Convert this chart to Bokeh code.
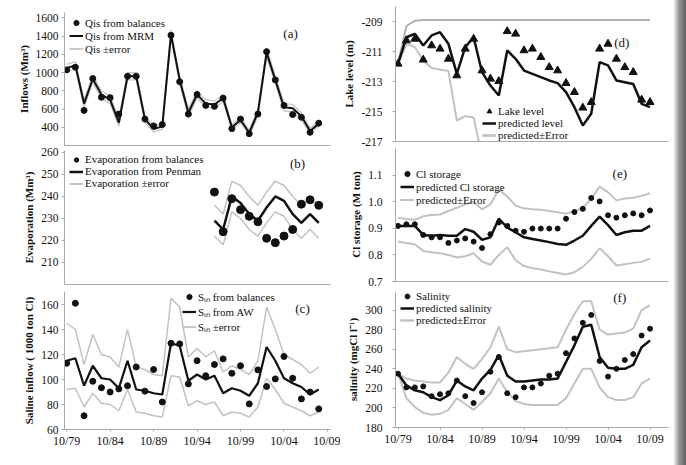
from bokeh.plotting import figure
from bokeh.models import Legend, LegendItem, Label, FixedTicker, Range1d, Div
from bokeh.layouts import row, column
from bokeh.embed import file_html
from bokeh.resources import INLINE

# ---------------- data ----------------
tick_pos = [0, 5, 10, 15, 20, 25, 30]
tick_labels = ["10/79", "10/84", "10/89", "10/94", "10/99", "10/04", "10/09"]

years_l = list(range(30))      # annual values 10/79 .. 10/08
years_r = list(range(31))      # states 10/79 .. 10/09

# (a) inflows
qis_bal = [1030, 1060, 585, 935, 730, 725, 545, 960, 960, 490, 415, 430, 1410, 900, 545,
           760, 640, 630, 720, 385, 490, 330, 545, 1230, 920, 640, 540, 510, 345, 445]
qis_mrm = [1050, 1080, 660, 930, 760, 700, 450, 960, 960, 490, 380, 410, 1420, 920, 560,
           760, 660, 650, 720, 400, 480, 340, 560, 1220, 920, 620, 610, 520, 360, 440]
qis_up = [1090, 1120, 700, 970, 800, 740, 490, 1000, 1000, 530, 410, 440, 1470, 960, 600,
          800, 700, 690, 760, 430, 510, 370, 600, 1270, 960, 660, 650, 560, 390, 470]
qis_lo = [1010, 1040, 620, 890, 720, 660, 410, 920, 920, 450, 350, 380, 1370, 880, 520,
          720, 620, 610, 680, 370, 450, 310, 520, 1170, 880, 580, 570, 480, 330, 410]

# (b) evaporation (10/96 .. 10/08)
years_b = list(range(17, 30))
evap_bal = [242, 224, 239, 234, 231, 228.5, 221, 219, 222, 225, 236.5, 238.5, 236]
evap_pen = [229, 225, 240, 237, 232, 229, 235, 240, 238, 232, 228, 232, 228]
evap_up = [236, 232, 247, 245, 240, 236, 242, 247, 245, 240, 236, 239, 236]
evap_lo = [222, 218, 233, 230, 225, 222, 228, 233, 231, 225, 221, 225, 221]

# (c) saline inflow
sin_bal = [113, 161, 71, 98.6, 93.4, 90, 92.5, 95, 110, 90.7, 108, 82, 129, 128.5, 96.5,
           115, 103, 112, 116.5, 105, 111, 80.5, 107.7, 94.4, 100.5, 118.4, 101, 84.5, 90, 76.5]
sin_aw = [115, 117, 95, 111, 101, 100, 93, 115, 92, 91, 89, 88, 129, 127, 99,
          104, 100, 103, 89, 93, 91, 87, 97, 126, 115, 101, 97, 94, 88, 92]
sin_up = [145, 140, 112, 136, 120, 118, 110, 140, 110, 108, 104, 103, 165, 158, 118,
          125, 118, 123, 106, 111, 108, 104, 115, 158, 140, 120, 116, 112, 105, 110]
sin_lo = [92, 93, 78, 89, 81, 80, 75, 92, 74, 73, 71, 70, 103, 102, 79,
          83, 80, 82, 71, 74, 73, 70, 78, 101, 92, 81, 78, 75, 71, 74]

# (d) lake level
lake_obs = [-211.82, -210.27, -210.16, -211.55, -210.6, -210.82, -211.49, -212.6, -210.82, -210.16,
            -212.27, -212.82, -212.98, -209.65, -209.82, -210.93, -210.82, -211.38, -212.05, -212.27,
            -213.11, -213.71, -214.75, -214.38, -210.82, -210.49, -211.49, -212.05, -212.38, -214.22,
            -214.38]
lake_pred = [-211.82, -210.05, -209.82, -210.6, -209.93, -209.71, -210.49, -212.49, -210.71, -210.05,
             -212.38, -213.27, -213.93, -210.93, -211.49, -212.27, -212.49, -212.71, -212.93, -213.11,
             -213.71, -214.71, -215.93, -215.15, -211.71, -211.93, -212.93, -213.05, -213.16, -214.49,
             -214.71]
lake_up = [-211.82, -209.3, -208.95, -208.9, -208.9, -208.9, -208.9, -208.9, -208.9, -208.9,
           -208.9, -208.9, -208.9, -208.9, -208.9, -208.9, -208.9, -208.9, -208.9, -208.9,
           -208.9, -208.9, -208.9, -208.9, -208.9, -208.9, -208.9, -208.9, -208.9, -208.9,
           -208.9]
lake_lo = [-211.82, -210.5, -210.7, -211.6, -212.1, -212.2, -212.3, -215.6, -215.3, -215.4,
           -218.0, -219.0, -220.0, -219.5, -220.5, -221.5, -222.0, -222.5, -223.0, -223.5,
           -224.0, -225.0, -226.0, -226.0, -223.0, -223.5, -224.5, -225.0, -225.5, -226.5,
           -227.0]

# (e) Cl storage
cl_obs = [0.909, 0.915, 0.915, 0.875, 0.866, 0.866, 0.845, 0.854, 0.862, 0.85,
          0.826, 0.878, 0.922, 0.909, 0.891, 0.887, 0.899, 0.899, 0.899, 0.899,
          0.936, 0.961, 0.973, 1.014, 1.001, 0.949, 0.94, 0.949, 0.956, 0.949, 0.967]
cl_pred = [0.909, 0.909, 0.909, 0.875, 0.872, 0.875, 0.872, 0.872, 0.897, 0.887,
           0.857, 0.866, 0.936, 0.903, 0.885, 0.866, 0.86, 0.854, 0.848, 0.841,
           0.838, 0.854, 0.872, 0.909, 0.944, 0.912, 0.875, 0.885, 0.891, 0.891, 0.909]
cl_up = [0.94, 0.935, 0.932, 0.945, 0.95, 0.952, 0.965, 0.977, 0.99, 1.0,
         0.972, 0.99, 1.045, 1.02, 0.985, 0.975, 0.972, 0.97, 0.965, 0.96,
         0.955, 0.965, 0.977, 1.01, 1.057, 1.035, 1.005, 1.012, 1.015, 1.022, 1.032]
cl_lo = [0.85, 0.845, 0.84, 0.815, 0.81, 0.806, 0.8, 0.79, 0.795, 0.806,
         0.775, 0.763, 0.8, 0.829, 0.78, 0.758, 0.75, 0.745, 0.738, 0.732,
         0.726, 0.735, 0.755, 0.785, 0.825, 0.795, 0.76, 0.765, 0.77, 0.774, 0.786]

# (f) salinity
sal_obs = [235, 221, 221, 222, 212, 214, 215, 228, 212, 205,
           216, 237, 252, 215, 211, 221, 221, 225, 233, 235,
           256, 271, 287, 295, 248, 232, 240, 249, 255, 274, 281]
sal_pred = [235, 223, 218, 216, 211, 208, 213, 228, 222, 218,
            230, 239, 254, 233, 227, 227, 228, 229, 229, 230,
            247, 264, 283, 285, 252, 241, 240, 240, 244, 262, 269]
sal_up = [235, 230, 228, 227, 226, 226, 236, 252, 245, 240,
          250, 262, 283, 260, 257, 258, 259, 260, 261, 262,
          280, 296, 309, 309, 280, 275, 276, 277, 281, 300, 305]
sal_lo = [235, 210, 201, 195, 193, 194, 198, 210, 204, 198,
          206, 215, 230, 216, 207, 204, 203, 203, 203, 203,
          210, 225, 240, 240, 221, 211, 208, 208, 211, 225, 230]

# ---------------- style ----------------
SERIF = "Liberation Serif"
AX = "#a8a8a8"
GRAY = "#c2c2c2"
BLACK = "#111111"
XL = Range1d(-0.25, 30.35)
XR = Range1d(-0.3, 32.2)


def make(width, height, xr, y0, y1, b, yticks, ylabels, title, show_x, right_col):
    p = figure(width=width, height=height, x_range=xr, y_range=Range1d(y0, y1),
               output_backend="svg", toolbar_location=None,
               min_border_left=b[0], min_border_right=b[1],
               min_border_top=b[2], min_border_bottom=b[3])
    p.xgrid.visible = False
    p.ygrid.visible = False
    p.outline_line_color = None
    p.background_fill_color = "white"
    p.border_fill_color = "white"
    ya = p.yaxis[0]
    ya.ticker = FixedTicker(ticks=yticks)
    ya.major_label_overrides = {t: l for t, l in zip(yticks, ylabels)}
    ya.axis_line_color = AX
    ya.major_tick_line_color = AX
    ya.minor_tick_line_color = None
    ya.major_tick_out = 3
    ya.major_tick_in = 0
    ya.major_label_standoff = 10 if right_col else 3
    ya.major_label_text_font = SERIF
    ya.major_label_text_font_size = "11.5px"
    ya.major_label_text_color = BLACK
    ya.axis_label = title
    ya.axis_label_text_font = SERIF
    ya.axis_label_text_font_size = "11px"
    ya.axis_label_text_font_style = "bold"
    ya.axis_label_text_color = BLACK
    ya.axis_label_standoff = 3
    xa = p.xaxis[0]
    xa.axis_line_color = AX
    xa.major_tick_line_color = AX
    xa.minor_tick_line_color = None
    xa.major_tick_in = 0
    if show_x:
        xa.ticker = FixedTicker(ticks=tick_pos)
        xa.major_label_overrides = {t: l for t, l in zip(tick_pos, tick_labels)}
        xa.major_tick_out = 2
        xa.major_label_standoff = 2
        xa.major_label_text_font = SERIF
        xa.major_label_text_font_size = "12px"
        xa.major_label_text_color = BLACK
    else:
        xa.ticker = FixedTicker(ticks=[])
        xa.major_tick_out = 0
        xa.major_label_standoff = 0
    return p


def legend(p, items, loc, gh, fs="11px"):
    lg = Legend(items=items, location=loc, orientation="vertical",
                background_fill_alpha=0, border_line_alpha=0, padding=0, margin=0,
                spacing=0, glyph_width=14, glyph_height=gh, label_height=gh,
                label_standoff=2, label_text_font=SERIF, label_text_font_size=fs,
                label_text_color=BLACK)
    p.add_layout(lg)


def tag(p, x, y, t):
    p.add_layout(Label(x=x, y=y, text=t, text_font=SERIF, text_font_size="13px",
                       text_align="center", text_baseline="middle", text_color=BLACK))


# (a)
pa = make(340, 147, XL, 200, 1660, (64, 10, 12, 2),
          [400, 600, 800, 1000, 1200, 1400, 1600],
          ["400", "600", "800", "1000", "1200", "1400", "1600"],
          "Inflows (Mm³)", False, False)
ra_u = pa.line(years_l, qis_up, line_color=GRAY, line_width=1.2)
ra_l = pa.line(years_l, qis_lo, line_color=GRAY, line_width=1.2)
ra_m = pa.line(years_l, qis_mrm, line_color=BLACK, line_width=2)
ra_b = pa.scatter(years_l, qis_bal, size=6, color=BLACK)
legend(pa, [LegendItem(label="Qis from balances", renderers=[ra_b]),
            LegendItem(label="Qis from MRM", renderers=[ra_m]),
            LegendItem(label="Qis ±error", renderers=[ra_u, ra_l])], (5, 90), 13)
tag(pa, 25.75, 1430, "(a)")

# (b)
pb = make(340, 141, XL, 200, 260.9, (64, 10, 3, 4),
          [210, 220, 230, 240, 250, 260], ["210", "220", "230", "240", "250", "260"],
          "Evaporation (Mm³)", False, False)
rb_u = pb.line(years_b, evap_up, line_color=GRAY, line_width=1.5)
rb_l = pb.line(years_b, evap_lo, line_color=GRAY, line_width=1.5)
rb_m = pb.line(years_b, evap_pen, line_color=BLACK, line_width=2.5)
rb_b = pb.scatter(years_b, evap_bal, size=8, color=BLACK)
legend(pb, [LegendItem(label="Evaporation from balances", renderers=[rb_b]),
            LegendItem(label="Evaporation from Penman", renderers=[rb_m]),
            LegendItem(label="Evaporation ±error", renderers=[rb_u, rb_l])], (5, 95), 11)
tag(pb, 26.55, 255, "(b)")

# (c)
pc = make(340, 177, XL, 60, 170.4, (64, 10, 3, 36),
          [60, 80, 100, 120, 140, 160], ["60", "80", "100", "120", "140", "160"],
          "Saline inflow ( 1000 ton Cl)", True, False)
rc_u = pc.line(years_l, sin_up, line_color=GRAY, line_width=1.5)
rc_l = pc.line(years_l, sin_lo, line_color=GRAY, line_width=1.5)
rc_m = pc.line(years_l, sin_aw, line_color=BLACK, line_width=2.2)
rc_b = pc.scatter(years_l, sin_bal, size=6, color=BLACK)
legend(pc, [LegendItem(label="Sᵢₙ from balances", renderers=[rc_b]),
            LegendItem(label="Sᵢₙ from AW", renderers=[rc_m]),
            LegendItem(label="Sᵢₙ ±error", renderers=[rc_u, rc_l])], (118, 95), 13)
tag(pc, 27.13, 156.8, "(c)")

# (d)
pd_ = make(334, 147, XR, -217, -208, (48, 6, 6, 6),
           [-217, -215, -213, -211, -209], ["-217", "-215", "-213", "-211", "-209"],
           "Lake level (m)", False, True)
rd_u = pd_.line(years_r, lake_up, line_color="#b0b0b0", line_width=2)
rd_l = pd_.line(years_r, lake_lo, line_color=GRAY, line_width=2)
rd_m = pd_.line(years_r, lake_pred, line_color=BLACK, line_width=2.5)
rd_b = pd_.scatter(years_r, lake_obs, marker="triangle", size=8, color=BLACK)
legend(pd_, [LegendItem(label="Lake level", renderers=[rd_b]),
             LegendItem(label="predicted level", renderers=[rd_m]),
             LegendItem(label="predicted±Error", renderers=[rd_u, rd_l])], (87, 0), 12)
tag(pd_, 26.63, -210.4, "(d)")

# (e)
pe = make(334, 140, XR, 0.7, 1.2037, (48, 6, 0, 6),
          [0.7, 0.8, 0.9, 1.0, 1.1], ["0.7", "0.8", "0.9", "1.0", "1.1"],
          "Cl storage (M ton)", False, True)
re_u = pe.line(years_r, cl_up, line_color=GRAY, line_width=2)
re_l = pe.line(years_r, cl_lo, line_color=GRAY, line_width=2)
re_m = pe.line(years_r, cl_pred, line_color=BLACK, line_width=2.5)
re_b = pe.scatter(years_r, cl_obs, size=5, color=BLACK)
legend(pe, [LegendItem(label="Cl storage", renderers=[re_b]),
            LegendItem(label="predicted Cl storage", renderers=[re_m]),
            LegendItem(label="predicted±Error", renderers=[re_u, re_l])], (5, 75), 13)
tag(pe, 26.4, 1.1065, "(e)")

# (f)
pf = make(334, 178, XR, 180, 319, (48, 6, 4, 38),
          [180, 200, 220, 240, 260, 280, 300], ["180", "200", "220", "240", "260", "280", "300"],
          "salinity (mgCl l⁻¹)", True, True)
rf_u = pf.line(years_r, sal_up, line_color=GRAY, line_width=2)
rf_l = pf.line(years_r, sal_lo, line_color=GRAY, line_width=2)
rf_m = pf.line(years_r, sal_pred, line_color=BLACK, line_width=2.5)
rf_b = pf.scatter(years_r, sal_obs, size=5, color=BLACK)
legend(pf, [LegendItem(label="Salinity", renderers=[rf_b]),
            LegendItem(label="predicted salinity", renderers=[rf_m]),
            LegendItem(label="predicted±Error", renderers=[rf_u, rf_l])], (5, 101), 12)
tag(pf, 26.4, 312.9, "(f)")
pf.add_layout(Label(x=-3.78, y=148.3, text="date", text_font=SERIF, text_font_size="11px",
                    text_font_style="bold", text_align="center", text_baseline="middle",
                    text_color=BLACK))

shadow = Div(width=12, height=465, margin=(0, 0, 0, 0),
             styles={"background": "linear-gradient(90deg, #f0f0f0 0%, #9a9a9a 40%, #5e5e5e 100%)"})

layout = row(column(pa, pb, pc, spacing=0), column(pd_, pe, pf, spacing=0), shadow, spacing=0)

open("out.html", "w").write(file_html(layout, INLINE))
